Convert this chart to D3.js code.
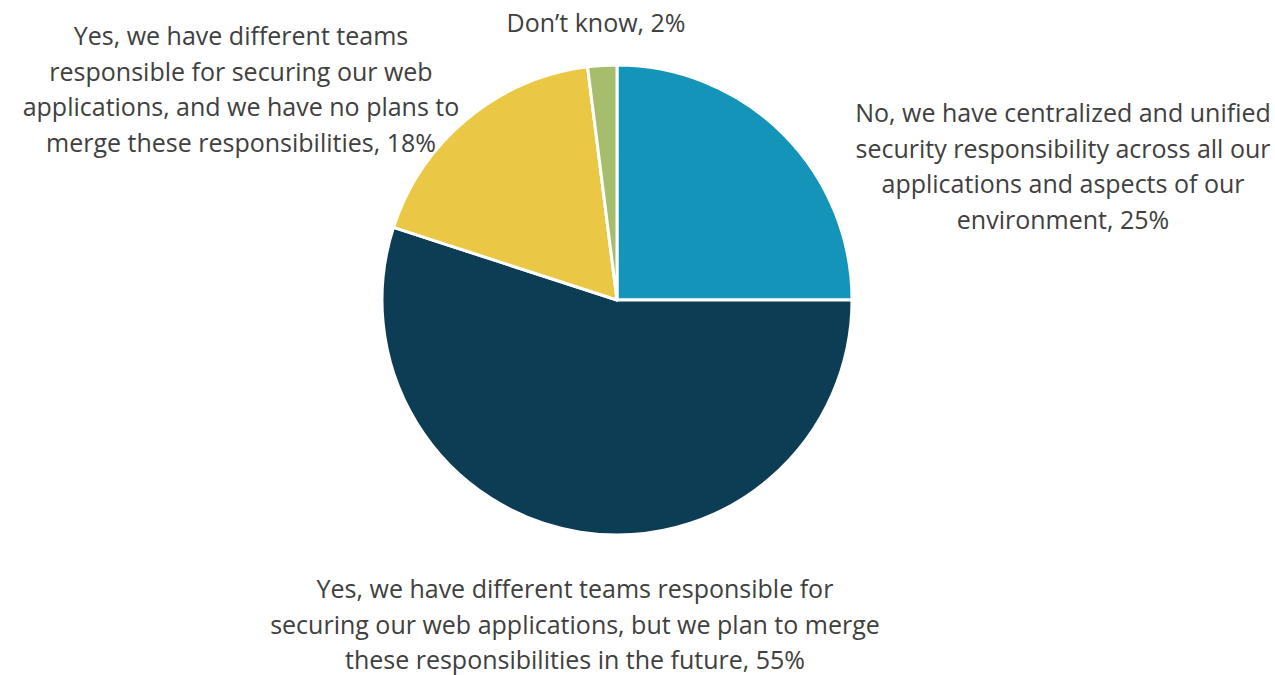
<!DOCTYPE html>
<html>
<head>
<meta charset="utf-8">
<script src="https://cdn.jsdelivr.net/npm/d3@7"></script>
<style>
  body { margin: 0; background: #fff; }
  text { font-family: "Source Sans Pro", "Open Sans", sans-serif; fill: #404040; }
</style>
</head>
<body>
<script>
'use strict';

// slice data, clockwise from 12 o'clock
const categories = [
  "No, we have centralized and unified security responsibility across all our applications and aspects of our environment",
  "Yes, we have different teams responsible for securing our web applications, but we plan to merge these responsibilities in the future",
  "Yes, we have different teams responsible for securing our web applications, and we have no plans to merge these responsibilities",
  "Don\u2019t know"
];
const values = [25, 55, 18, 2];
const labelLines = [
  ["No, we have centralized and unified", "security responsibility across all our", "applications and aspects of our", "environment, 25%"],
  ["Yes, we have different teams responsible for", "securing our web applications, but we plan to merge", "these responsibilities in the future, 55%"],
  ["Yes, we have different teams", "responsible for securing our web", "applications, and we have no plans to", "merge these responsibilities, 18%"],
  ["Don\u2019t know, 2%"]
];
const colors = ["#1594BA", "#0D3C55", "#EAC744", "#A6BD6D"];

// layout
const width = 1275, height = 675;
const cx = 617, cy = 300, radius = 235;
const labelPos = [
  { x: 1063, y: 122 },
  { x: 575, y: 598 },
  { x: 241, y: 45 },
  { x: 596, y: 32 }
];
const lineHeight = 35.5;

const svg = d3.select('body').append('svg')
  .attr('width', width)
  .attr('height', height);

const pie = d3.pie().sort(null).value(d => d);
const arc = d3.arc().innerRadius(0).outerRadius(radius);

const g = svg.append('g').attr('transform', 'translate(' + cx + ',' + cy + ')');

g.selectAll('path')
  .data(pie(values))
  .enter()
  .append('path')
    .attr('d', arc)
    .attr('fill', (d, i) => colors[i])
    .attr('stroke', '#fff')
    .attr('stroke-width', 3)
    .attr('stroke-linejoin', 'round');

// labels
categories.forEach((c, i) => {
  const t = svg.append('text')
    .attr('text-anchor', 'middle')
    .style('font-size', '25px');
  labelLines[i].forEach((line, j) => {
    t.append('tspan')
      .attr('x', labelPos[i].x)
      .attr('y', labelPos[i].y + j * lineHeight)
      .text(line);
  });
});
</script>
</body>
</html>
